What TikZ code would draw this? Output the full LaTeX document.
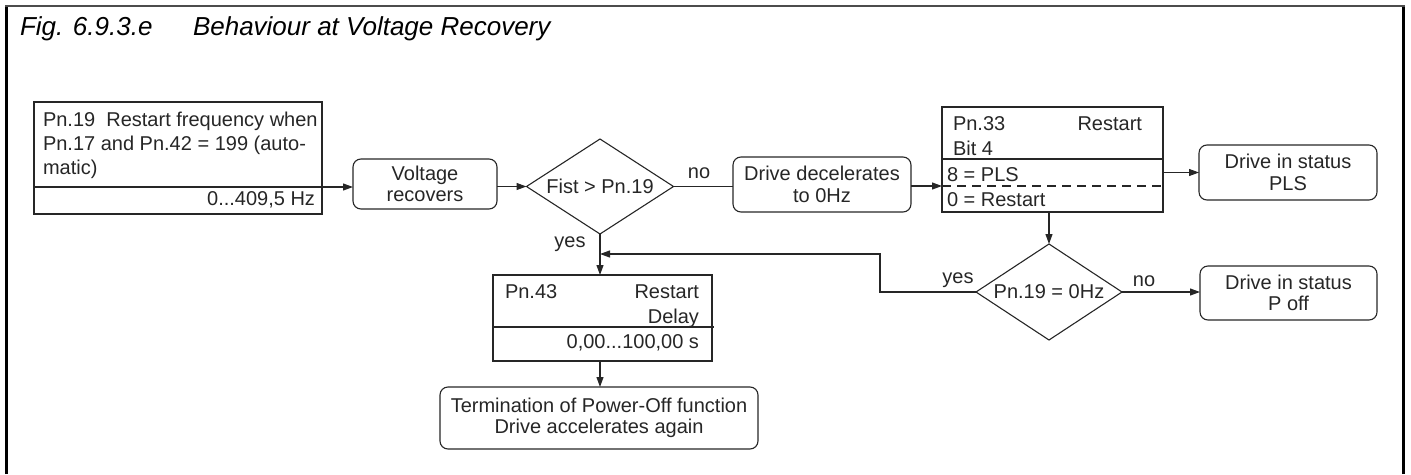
\documentclass[tikz,border=0pt]{standalone}
\usepackage{fontspec}
\setmainfont{Liberation Sans}
\usetikzlibrary{arrows.meta,shapes.geometric}
\begin{document}
\begin{tikzpicture}[x=1pt,y=-1pt,
  ln/.style={line width=1.1pt, draw=black!85},
  arr/.style={ln, -{Triangle[length=10pt,width=7pt]}},
  pbox/.style={ln, rectangle, inner sep=0pt, outer sep=0pt},
  rbox/.style={ln, rectangle, rounded corners=8pt, inner sep=0pt, outer sep=0pt, align=center, text=black!85, font=\fontsize{20}{21.5}\selectfont},
  dec/.style={ln, diamond, inner sep=0pt, outer sep=0pt, text=black!85, font=\fontsize{20}{24}\selectfont},
  txt/.style={inner sep=0pt, outer sep=0pt, text=black!85, font=\fontsize{20}{24}\selectfont},
  ttl/.style={inner sep=0pt, outer sep=0pt, anchor=base west, font=\fontsize{26}{30}\selectfont\itshape},
]
\useasboundingbox (0,0) rectangle (1411,474);
% frame
\draw[line width=3pt] (6.5,474) -- (6.5,6);
\draw[line width=3pt] (1403,474) -- (1403,6);
\draw[line width=1.5pt, draw=black!70] (5,6) -- (1404.5,6);
% title
\node[ttl] (figno) at (20,35) {Fig. 6.9.3.e};
\node[ttl] (figtitle) at (193,35) {Behaviour at Voltage Recovery};

% Pn.19 box
\node[pbox, minimum width=288pt, minimum height=112pt] (p19) at (178,158) {};
\draw[ln] (p19.west |- 0,187) -- (p19.east |- 0,187);
\node[txt, anchor=base west] (p19a) at (43,126) {Pn.19~~Restart frequency when};
\node[txt, anchor=base west] (p19b) at (43,150) {Pn.17 and Pn.42 = 199 (auto-};
\node[txt, anchor=base west] (p19c) at (43,174) {matic)};
\node[txt, anchor=base east] (p19d) at (315,205) {0...409,5 Hz};
\coordinate (d19) at (322,187);

% Voltage recovers
\node[rbox, minimum width=144pt, minimum height=50pt] (volt) at (425,184) {Voltage\\recovers};

% Fist decision
\node[dec, aspect=1.55, minimum width=147pt, minimum height=95pt] (fist) at (600,186.5) {Fist > Pn.19};

% Drive decelerates
\node[rbox, minimum width=178pt, minimum height=55pt] (decel) at (822,184.5) {Drive decelerates\\to 0Hz};

% Pn.33 box
\node[pbox, minimum width=221pt, minimum height=105pt] (pn33) at (1052.5,159.5) {};
\draw[ln] (pn33.west |- 0,159) -- (pn33.east |- 0,159);
\draw[ln, dash pattern=on 9pt off 6pt] (pn33.west |- 0,186) -- (pn33.east |- 0,186);
\node[txt, anchor=base west] (p33a) at (953,130) {Pn.33};
\node[txt, anchor=base east] (p33b) at (1142,130) {Restart};
\node[txt, anchor=base west] (p33c) at (953,155) {Bit 4};
\node[txt, anchor=base west] (p33d) at (947,181) {8 = PLS};
\node[txt, anchor=base west] (p33e) at (947,206) {0 = Restart};
\coordinate (q33) at (942,186);

% Drive in status PLS
\node[rbox, minimum width=178pt, minimum height=55pt] (pls) at (1288,172.5) {Drive in status\\PLS};

% Pn.19 = 0Hz decision
\node[dec, aspect=1.52, minimum width=146pt, minimum height=96pt] (zero) at (1049,292) {Pn.19 = 0Hz};

% Drive in status P off
\node[rbox, minimum width=177pt, minimum height=54pt] (poff) at (1288.5,293) {Drive in status\\P off};

% Pn.43 box
\node[pbox, minimum width=219pt, minimum height=86pt] (pn43) at (602.5,318) {};
\draw[ln] (pn43.west |- 0,327) -- ([xshift=1.5pt]pn43.east |- 0,327);
\node[txt, anchor=base west] (p43a) at (505,298) {Pn.43};
\node[txt, anchor=base east] (p43b) at (699,298) {Restart};
\node[txt, anchor=base east] (p43c) at (699,323) {Delay};
\node[txt, anchor=base east] (p43d) at (699,348) {0,00...100,00 s};

% Termination
\node[rbox, minimum width=318pt, minimum height=62pt] (term) at (599,418) {Termination of Power-Off function\\Drive accelerates again};

% labels
\node[txt] (no1) at (699,173) {no};
\node[txt] (yes1) at (570,244) {yes};
\node[txt] (yes2) at (958,280) {yes};
\node[txt] (no2) at (1144,281) {no};

% connectors
\draw[arr] (d19) -- (d19 -| volt.west);
\draw[arr] (volt.east |- fist.west) -- (fist.west);
\draw[ln] (fist.east) -- (fist.east -| decel.west);
\draw[arr] (decel.east |- q33) -- (q33);
\draw[arr] (pn33.east |- pls.west) -- (pls.west);
\draw[arr] (pn33.south -| zero.north) -- (zero.north);
\draw[arr] (zero.east) -- (zero.east -| poff.west);
\coordinate (fb) at (880,254);
\draw[arr] (zero.west) -| (fb) -- (fb -| fist.south);
\draw[arr] (fist.south) -- (fist.south |- pn43.north);
\draw[arr] (pn43.south -| fist.south) -- (fist.south |- term.north);
\end{tikzpicture}
\end{document}
